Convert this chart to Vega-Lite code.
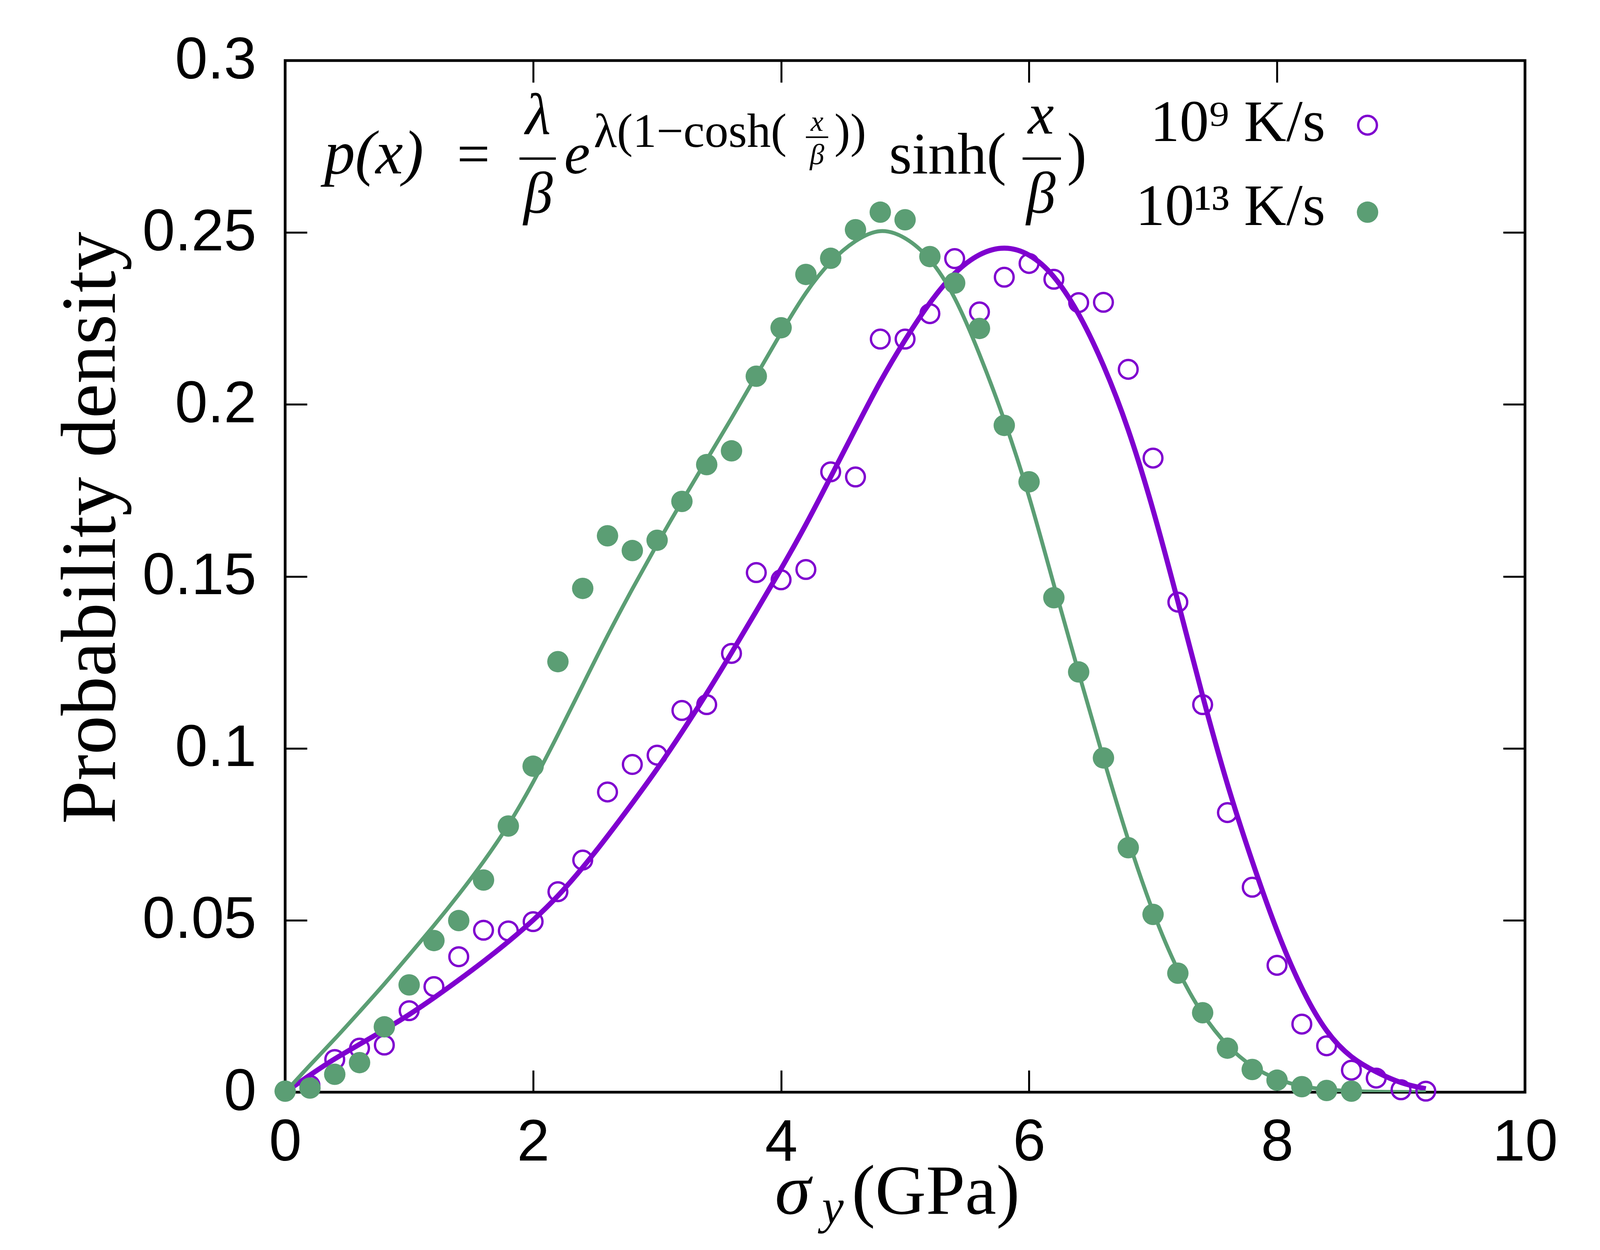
{
  "$schema": "https://vega.github.io/schema/vega-lite/v6.json",
  "width": 3174,
  "height": 2641,
  "autosize": {"type": "none"},
  "padding": {"left": 730, "top": 155, "right": 362, "bottom": 404},
  "background": "white",
  "config": {
    "view": {"stroke": "black", "strokeWidth": 7},
    "axis": {
      "grid": false,
      "domain": false,
      "ticks": true,
      "tickColor": "black",
      "tickWidth": 5,
      "tickSize": -56,
      "labelFont": "Liberation Sans",
      "labelFontSize": 150,
      "labelColor": "black",
      "labelLimit": 0,
      "labelOverlap": false,
      "labelFlush": false,
      "titleFont": "Liberation Serif",
      "titleFontWeight": "normal",
      "titleColor": "black"
    },
    "text": {"font": "Liberation Serif", "color": "black"}
  },
  "datasets": {
    "points": [
      {"rate": "1e9", "x": 0.2, "y": 0.002},
      {"rate": "1e9", "x": 0.4, "y": 0.0095},
      {"rate": "1e9", "x": 0.6, "y": 0.0128},
      {"rate": "1e9", "x": 0.8, "y": 0.0137},
      {"rate": "1e9", "x": 1.0, "y": 0.0237},
      {"rate": "1e9", "x": 1.2, "y": 0.0307},
      {"rate": "1e9", "x": 1.4, "y": 0.0394},
      {"rate": "1e9", "x": 1.6, "y": 0.0471},
      {"rate": "1e9", "x": 1.8, "y": 0.0469},
      {"rate": "1e9", "x": 2.0, "y": 0.0496},
      {"rate": "1e9", "x": 2.2, "y": 0.0583},
      {"rate": "1e9", "x": 2.4, "y": 0.0675},
      {"rate": "1e9", "x": 2.6, "y": 0.0873},
      {"rate": "1e9", "x": 2.8, "y": 0.0953},
      {"rate": "1e9", "x": 3.0, "y": 0.098},
      {"rate": "1e9", "x": 3.2, "y": 0.111},
      {"rate": "1e9", "x": 3.4, "y": 0.1127},
      {"rate": "1e9", "x": 3.6, "y": 0.1276},
      {"rate": "1e9", "x": 3.8, "y": 0.1511},
      {"rate": "1e9", "x": 4.0, "y": 0.149},
      {"rate": "1e9", "x": 4.2, "y": 0.152},
      {"rate": "1e9", "x": 4.4, "y": 0.1804},
      {"rate": "1e9", "x": 4.6, "y": 0.1789},
      {"rate": "1e9", "x": 4.8, "y": 0.219},
      {"rate": "1e9", "x": 5.0, "y": 0.219},
      {"rate": "1e9", "x": 5.2, "y": 0.2264},
      {"rate": "1e9", "x": 5.4, "y": 0.2424},
      {"rate": "1e9", "x": 5.6, "y": 0.2269},
      {"rate": "1e9", "x": 5.8, "y": 0.237},
      {"rate": "1e9", "x": 6.0, "y": 0.241},
      {"rate": "1e9", "x": 6.2, "y": 0.2364},
      {"rate": "1e9", "x": 6.4, "y": 0.2296},
      {"rate": "1e9", "x": 6.6, "y": 0.2297},
      {"rate": "1e9", "x": 6.8, "y": 0.2102},
      {"rate": "1e9", "x": 7.0, "y": 0.1844},
      {"rate": "1e9", "x": 7.2, "y": 0.1425},
      {"rate": "1e9", "x": 7.4, "y": 0.1127},
      {"rate": "1e9", "x": 7.6, "y": 0.0813},
      {"rate": "1e9", "x": 7.8, "y": 0.0596},
      {"rate": "1e9", "x": 8.0, "y": 0.0369},
      {"rate": "1e9", "x": 8.2, "y": 0.0198},
      {"rate": "1e9", "x": 8.4, "y": 0.0135},
      {"rate": "1e9", "x": 8.6, "y": 0.0064},
      {"rate": "1e9", "x": 8.8, "y": 0.0041},
      {"rate": "1e9", "x": 9.0, "y": 0.0007},
      {"rate": "1e9", "x": 9.2, "y": 0.0003},
      {"rate": "1e13", "x": 0.0, "y": 0.0003},
      {"rate": "1e13", "x": 0.2, "y": 0.0012},
      {"rate": "1e13", "x": 0.4, "y": 0.0052},
      {"rate": "1e13", "x": 0.6, "y": 0.0086},
      {"rate": "1e13", "x": 0.8, "y": 0.019},
      {"rate": "1e13", "x": 1.0, "y": 0.0312},
      {"rate": "1e13", "x": 1.2, "y": 0.0441},
      {"rate": "1e13", "x": 1.4, "y": 0.0499},
      {"rate": "1e13", "x": 1.6, "y": 0.0617},
      {"rate": "1e13", "x": 1.8, "y": 0.0774},
      {"rate": "1e13", "x": 2.0, "y": 0.0948},
      {"rate": "1e13", "x": 2.2, "y": 0.1252},
      {"rate": "1e13", "x": 2.4, "y": 0.1465},
      {"rate": "1e13", "x": 2.6, "y": 0.1618},
      {"rate": "1e13", "x": 2.8, "y": 0.1575},
      {"rate": "1e13", "x": 3.0, "y": 0.1605},
      {"rate": "1e13", "x": 3.2, "y": 0.1718},
      {"rate": "1e13", "x": 3.4, "y": 0.1825},
      {"rate": "1e13", "x": 3.6, "y": 0.1865},
      {"rate": "1e13", "x": 3.8, "y": 0.2082},
      {"rate": "1e13", "x": 4.0, "y": 0.2223},
      {"rate": "1e13", "x": 4.2, "y": 0.2378},
      {"rate": "1e13", "x": 4.4, "y": 0.2425},
      {"rate": "1e13", "x": 4.6, "y": 0.2508},
      {"rate": "1e13", "x": 4.8, "y": 0.2559},
      {"rate": "1e13", "x": 5.0, "y": 0.2537},
      {"rate": "1e13", "x": 5.2, "y": 0.243},
      {"rate": "1e13", "x": 5.4, "y": 0.2353},
      {"rate": "1e13", "x": 5.6, "y": 0.2221},
      {"rate": "1e13", "x": 5.8, "y": 0.1939},
      {"rate": "1e13", "x": 6.0, "y": 0.1775},
      {"rate": "1e13", "x": 6.2, "y": 0.1438},
      {"rate": "1e13", "x": 6.4, "y": 0.1222},
      {"rate": "1e13", "x": 6.6, "y": 0.0972},
      {"rate": "1e13", "x": 6.8, "y": 0.0711},
      {"rate": "1e13", "x": 7.0, "y": 0.0517},
      {"rate": "1e13", "x": 7.2, "y": 0.0346},
      {"rate": "1e13", "x": 7.4, "y": 0.0231},
      {"rate": "1e13", "x": 7.6, "y": 0.0128},
      {"rate": "1e13", "x": 7.8, "y": 0.0066},
      {"rate": "1e13", "x": 8.0, "y": 0.0035},
      {"rate": "1e13", "x": 8.2, "y": 0.0016},
      {"rate": "1e13", "x": 8.4, "y": 0.0005},
      {"rate": "1e13", "x": 8.6, "y": 0.0003}
    ],
    "fits": [
      {"rate": "1e9", "x": 0.0, "y": 0.0},
      {"rate": "1e9", "x": 0.2, "y": 0.005},
      {"rate": "1e9", "x": 0.4, "y": 0.0098},
      {"rate": "1e9", "x": 0.6, "y": 0.0139},
      {"rate": "1e9", "x": 0.8, "y": 0.0181},
      {"rate": "1e9", "x": 1.0, "y": 0.0225},
      {"rate": "1e9", "x": 1.2, "y": 0.0274},
      {"rate": "1e9", "x": 1.4, "y": 0.0326},
      {"rate": "1e9", "x": 1.6, "y": 0.038},
      {"rate": "1e9", "x": 1.8, "y": 0.0437},
      {"rate": "1e9", "x": 2.0, "y": 0.0499},
      {"rate": "1e9", "x": 2.2, "y": 0.0569},
      {"rate": "1e9", "x": 2.4, "y": 0.0652},
      {"rate": "1e9", "x": 2.6, "y": 0.0744},
      {"rate": "1e9", "x": 2.8, "y": 0.084},
      {"rate": "1e9", "x": 3.0, "y": 0.0939},
      {"rate": "1e9", "x": 3.2, "y": 0.1046},
      {"rate": "1e9", "x": 3.4, "y": 0.1159},
      {"rate": "1e9", "x": 3.6, "y": 0.1277},
      {"rate": "1e9", "x": 3.8, "y": 0.1399},
      {"rate": "1e9", "x": 4.0, "y": 0.1521},
      {"rate": "1e9", "x": 4.2, "y": 0.1649},
      {"rate": "1e9", "x": 4.4, "y": 0.1789},
      {"rate": "1e9", "x": 4.6, "y": 0.1929},
      {"rate": "1e9", "x": 4.8, "y": 0.2069},
      {"rate": "1e9", "x": 5.0, "y": 0.2189},
      {"rate": "1e9", "x": 5.2, "y": 0.2299},
      {"rate": "1e9", "x": 5.4, "y": 0.2386},
      {"rate": "1e9", "x": 5.6, "y": 0.2441},
      {"rate": "1e9", "x": 5.8, "y": 0.2461},
      {"rate": "1e9", "x": 6.0, "y": 0.2441},
      {"rate": "1e9", "x": 6.2, "y": 0.2379},
      {"rate": "1e9", "x": 6.4, "y": 0.2269},
      {"rate": "1e9", "x": 6.6, "y": 0.2119},
      {"rate": "1e9", "x": 6.8, "y": 0.1934},
      {"rate": "1e9", "x": 7.0, "y": 0.1699},
      {"rate": "1e9", "x": 7.2, "y": 0.1429},
      {"rate": "1e9", "x": 7.4, "y": 0.1149},
      {"rate": "1e9", "x": 7.6, "y": 0.0889},
      {"rate": "1e9", "x": 7.8, "y": 0.0669},
      {"rate": "1e9", "x": 8.0, "y": 0.0464},
      {"rate": "1e9", "x": 8.2, "y": 0.0296},
      {"rate": "1e9", "x": 8.4, "y": 0.017},
      {"rate": "1e9", "x": 8.6, "y": 0.0098},
      {"rate": "1e9", "x": 8.8, "y": 0.0058},
      {"rate": "1e9", "x": 9.0, "y": 0.0025},
      {"rate": "1e9", "x": 9.2, "y": 0.001},
      {"rate": "1e13", "x": 0.0, "y": 0.0},
      {"rate": "1e13", "x": 0.2, "y": 0.0079},
      {"rate": "1e13", "x": 0.4, "y": 0.0154},
      {"rate": "1e13", "x": 0.6, "y": 0.0234},
      {"rate": "1e13", "x": 0.8, "y": 0.0314},
      {"rate": "1e13", "x": 1.0, "y": 0.0399},
      {"rate": "1e13", "x": 1.2, "y": 0.0484},
      {"rate": "1e13", "x": 1.4, "y": 0.0574},
      {"rate": "1e13", "x": 1.6, "y": 0.0669},
      {"rate": "1e13", "x": 1.8, "y": 0.0774},
      {"rate": "1e13", "x": 2.0, "y": 0.0899},
      {"rate": "1e13", "x": 2.2, "y": 0.1039},
      {"rate": "1e13", "x": 2.4, "y": 0.1184},
      {"rate": "1e13", "x": 2.6, "y": 0.1329},
      {"rate": "1e13", "x": 2.8, "y": 0.1464},
      {"rate": "1e13", "x": 3.0, "y": 0.1594},
      {"rate": "1e13", "x": 3.2, "y": 0.1719},
      {"rate": "1e13", "x": 3.4, "y": 0.1839},
      {"rate": "1e13", "x": 3.6, "y": 0.1959},
      {"rate": "1e13", "x": 3.8, "y": 0.2084},
      {"rate": "1e13", "x": 4.0, "y": 0.2209},
      {"rate": "1e13", "x": 4.2, "y": 0.2329},
      {"rate": "1e13", "x": 4.4, "y": 0.2419},
      {"rate": "1e13", "x": 4.6, "y": 0.2479},
      {"rate": "1e13", "x": 4.8, "y": 0.2514},
      {"rate": "1e13", "x": 5.0, "y": 0.2489},
      {"rate": "1e13", "x": 5.2, "y": 0.2429},
      {"rate": "1e13", "x": 5.4, "y": 0.2319},
      {"rate": "1e13", "x": 5.6, "y": 0.2149},
      {"rate": "1e13", "x": 5.8, "y": 0.1959},
      {"rate": "1e13", "x": 6.0, "y": 0.1739},
      {"rate": "1e13", "x": 6.2, "y": 0.1474},
      {"rate": "1e13", "x": 6.4, "y": 0.1219},
      {"rate": "1e13", "x": 6.6, "y": 0.0969},
      {"rate": "1e13", "x": 6.8, "y": 0.0729},
      {"rate": "1e13", "x": 7.0, "y": 0.0519},
      {"rate": "1e13", "x": 7.2, "y": 0.0349},
      {"rate": "1e13", "x": 7.4, "y": 0.0222},
      {"rate": "1e13", "x": 7.6, "y": 0.0132},
      {"rate": "1e13", "x": 7.8, "y": 0.0072},
      {"rate": "1e13", "x": 8.0, "y": 0.0036},
      {"rate": "1e13", "x": 8.2, "y": 0.0016},
      {"rate": "1e13", "x": 8.4, "y": 0.0007},
      {"rate": "1e13", "x": 8.6, "y": 0.0003},
      {"rate": "1e13", "x": 8.8, "y": 0.0001},
      {"rate": "1e13", "x": 9.2, "y": 0.0}
    ]
  },
  "resolve": {"axis": {"x": "independent", "y": "independent"}},
  "layer": [
    {
      "data": {"name": "fits"},
      "mark": {"type": "line", "interpolate": "basis", "clip": true},
      "encoding": {
        "x": {
          "field": "x", "type": "quantitative",
          "scale": {"domain": [0, 10]},
          "axis": {"orient": "top", "labels": false, "title": null, "values": [0, 2, 4, 6, 8, 10]}
        },
        "y": {
          "field": "y", "type": "quantitative",
          "scale": {"domain": [0, 0.3]},
          "axis": {"orient": "right", "labels": false, "title": null, "values": [0, 0.05, 0.1, 0.15, 0.2, 0.25, 0.3]}
        },
        "color": {
          "field": "rate", "type": "nominal",
          "scale": {"domain": ["1e9", "1e13"], "range": ["#7f00cf", "#5b9e74"]},
          "legend": null
        },
        "strokeWidth": {
          "field": "rate", "type": "nominal",
          "scale": {"domain": ["1e9", "1e13"], "range": [13, 10]},
          "legend": null
        }
      }
    },
    {
      "data": {"name": "points"},
      "transform": [{"filter": "datum.rate === '1e9'"}],
      "mark": {"type": "point", "shape": "circle", "filled": false, "size": 2300, "strokeWidth": 6, "color": "#7f00cf", "opacity": 1},
      "encoding": {
        "x": {
          "field": "x", "type": "quantitative",
          "axis": {"orient": "bottom", "values": [0, 2, 4, 6, 8, 10], "labelPadding": 111, "title": null}
        },
        "y": {
          "field": "y", "type": "quantitative",
          "axis": {"orient": "left", "values": [0, 0.05, 0.1, 0.15, 0.2, 0.25, 0.3], "format": "~g", "labelPadding": 130, "title": "Probability density", "titleFontSize": 200, "titleBaseline": "alphabetic", "titleAngle": 270, "titleX": -437, "titleY": 1196}
        }
      }
    },
    {
      "data": {"name": "points"},
      "transform": [{"filter": "datum.rate === '1e13'"}],
      "mark": {"type": "point", "shape": "circle", "filled": true, "size": 3000, "color": "#5b9e74", "opacity": 1},
      "encoding": {
        "x": {"field": "x", "type": "quantitative", "axis": null},
        "y": {"field": "y", "type": "quantitative", "axis": null}
      }
    },
    {
      "data": {"values": [{}]},
      "mark": {"type": "text", "fontSize": 185, "fontStyle": "italic", "align": "left", "baseline": "alphabetic", "clip": false},
      "encoding": {
        "x": {"datum": 3.95, "axis": null},
        "y": {"datum": -0.0353, "axis": null},
        "text": {"value": "σ"}
      }
    },
    {
      "data": {"values": [{}]},
      "mark": {"type": "text", "fontSize": 125, "fontStyle": "italic", "align": "left", "baseline": "alphabetic", "clip": false},
      "encoding": {
        "x": {"datum": 4.33, "axis": null},
        "y": {"datum": -0.038, "axis": null},
        "text": {"value": "y"}
      }
    },
    {
      "data": {"values": [{}]},
      "mark": {"type": "text", "fontSize": 180, "align": "left", "baseline": "alphabetic", "clip": false},
      "encoding": {
        "x": {"datum": 4.57, "axis": null},
        "y": {"datum": -0.0353, "axis": null},
        "text": {"value": "(GPa)"}
      }
    },
    {
      "data": {"values": [{}]},
      "mark": {"type": "text", "fontSize": 158, "fontStyle": "italic", "align": "left", "baseline": "alphabetic"},
      "encoding": {
        "x": {"datum": 0.315, "axis": null},
        "y": {"datum": 0.2672, "axis": null},
        "text": {"value": "p(x)"}
      }
    },
    {
      "data": {"values": [{}]},
      "mark": {"type": "text", "fontSize": 150, "align": "center", "baseline": "alphabetic"},
      "encoding": {
        "x": {"datum": 1.519, "axis": null},
        "y": {"datum": 0.2672, "axis": null},
        "text": {"value": "="}
      }
    },
    {
      "data": {"values": [{}]},
      "mark": {"type": "text", "fontSize": 150, "fontStyle": "italic", "align": "center", "baseline": "alphabetic"},
      "encoding": {
        "x": {"datum": 2.04, "axis": null},
        "y": {"datum": 0.2785, "axis": null},
        "text": {"value": "λ"}
      }
    },
    {
      "data": {"values": [{}]},
      "mark": {"type": "rule", "strokeWidth": 6, "color": "black"},
      "encoding": {
        "x": {"datum": 1.89, "axis": null},
        "x2": {"datum": 2.183},
        "y": {"datum": 0.2715, "axis": null}
      }
    },
    {
      "data": {"values": [{}]},
      "mark": {"type": "text", "fontSize": 150, "fontStyle": "italic", "align": "center", "baseline": "alphabetic"},
      "encoding": {
        "x": {"datum": 2.04, "axis": null},
        "y": {"datum": 0.2557, "axis": null},
        "text": {"value": "β"}
      }
    },
    {
      "data": {"values": [{}]},
      "mark": {"type": "text", "fontSize": 150, "fontStyle": "italic", "align": "left", "baseline": "alphabetic"},
      "encoding": {
        "x": {"datum": 2.25, "axis": null},
        "y": {"datum": 0.2672, "axis": null},
        "text": {"value": "e"}
      }
    },
    {
      "data": {"values": [{}]},
      "mark": {"type": "text", "fontSize": 122, "align": "left", "baseline": "alphabetic"},
      "encoding": {
        "x": {"datum": 2.489, "axis": null},
        "y": {"datum": 0.2749, "axis": null},
        "text": {"value": "λ(1−cosh("}
      }
    },
    {
      "data": {"values": [{}]},
      "mark": {"type": "text", "fontSize": 74, "fontStyle": "italic", "align": "center", "baseline": "alphabetic"},
      "encoding": {
        "x": {"datum": 4.29, "axis": null},
        "y": {"datum": 0.2795, "axis": null},
        "text": {"value": "x"}
      }
    },
    {
      "data": {"values": [{}]},
      "mark": {"type": "rule", "strokeWidth": 4, "color": "black"},
      "encoding": {
        "x": {"datum": 4.2, "axis": null},
        "x2": {"datum": 4.38},
        "y": {"datum": 0.2777, "axis": null}
      }
    },
    {
      "data": {"values": [{}]},
      "mark": {"type": "text", "fontSize": 74, "fontStyle": "italic", "align": "center", "baseline": "alphabetic"},
      "encoding": {
        "x": {"datum": 4.29, "axis": null},
        "y": {"datum": 0.2699, "axis": null},
        "text": {"value": "β"}
      }
    },
    {
      "data": {"values": [{}]},
      "mark": {"type": "text", "fontSize": 122, "align": "left", "baseline": "alphabetic"},
      "encoding": {
        "x": {"datum": 4.43, "axis": null},
        "y": {"datum": 0.2749, "axis": null},
        "text": {"value": "))"}
      }
    },
    {
      "data": {"values": [{}]},
      "mark": {"type": "text", "fontSize": 150, "align": "left", "baseline": "alphabetic"},
      "encoding": {
        "x": {"datum": 4.871, "axis": null},
        "y": {"datum": 0.2672, "axis": null},
        "text": {"value": "sinh("}
      }
    },
    {
      "data": {"values": [{}]},
      "mark": {"type": "text", "fontSize": 150, "fontStyle": "italic", "align": "center", "baseline": "alphabetic"},
      "encoding": {
        "x": {"datum": 6.096, "axis": null},
        "y": {"datum": 0.2788, "axis": null},
        "text": {"value": "x"}
      }
    },
    {
      "data": {"values": [{}]},
      "mark": {"type": "rule", "strokeWidth": 6, "color": "black"},
      "encoding": {
        "x": {"datum": 5.948, "axis": null},
        "x2": {"datum": 6.257},
        "y": {"datum": 0.2715, "axis": null}
      }
    },
    {
      "data": {"values": [{}]},
      "mark": {"type": "text", "fontSize": 150, "fontStyle": "italic", "align": "center", "baseline": "alphabetic"},
      "encoding": {
        "x": {"datum": 6.096, "axis": null},
        "y": {"datum": 0.2557, "axis": null},
        "text": {"value": "β"}
      }
    },
    {
      "data": {"values": [{}]},
      "mark": {"type": "text", "fontSize": 150, "align": "left", "baseline": "alphabetic"},
      "encoding": {
        "x": {"datum": 6.307, "axis": null},
        "y": {"datum": 0.2672, "axis": null},
        "text": {"value": ")"}
      }
    },
    {
      "data": {"values": [{}]},
      "mark": {"type": "text", "fontSize": 150, "align": "right", "baseline": "alphabetic"},
      "encoding": {
        "x": {"datum": 8.39, "axis": null},
        "y": {"datum": 0.2766, "axis": null},
        "text": {"value": "10⁹ K/s"}
      }
    },
    {
      "data": {"values": [{}]},
      "mark": {"type": "text", "fontSize": 150, "align": "right", "baseline": "alphabetic"},
      "encoding": {
        "x": {"datum": 8.39, "axis": null},
        "y": {"datum": 0.2522, "axis": null},
        "text": {"value": "10¹³ K/s"}
      }
    },
    {
      "data": {"values": [{}]},
      "mark": {"type": "point", "shape": "circle", "filled": false, "size": 2300, "strokeWidth": 6, "color": "#7f00cf", "opacity": 1},
      "encoding": {
        "x": {"datum": 8.73, "axis": null},
        "y": {"datum": 0.2812, "axis": null}
      }
    },
    {
      "data": {"values": [{}]},
      "mark": {"type": "point", "shape": "circle", "filled": true, "size": 3000, "color": "#5b9e74", "opacity": 1},
      "encoding": {
        "x": {"datum": 8.73, "axis": null},
        "y": {"datum": 0.2559, "axis": null}
      }
    }
  ]
}
